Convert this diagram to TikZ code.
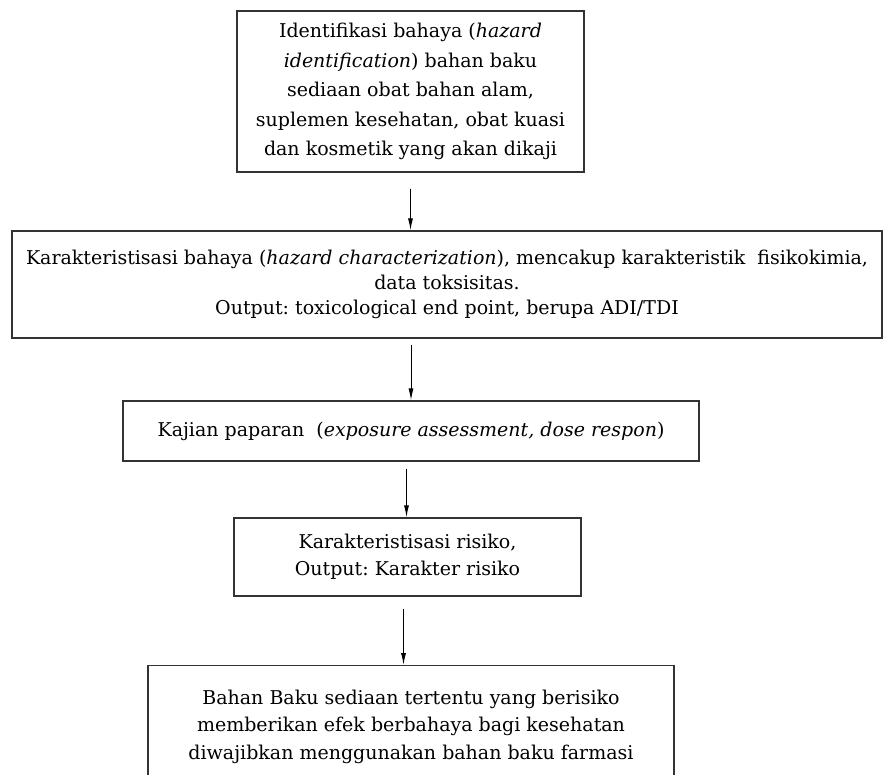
\documentclass[tikz,border=0pt]{standalone}
\usepackage{fontspec}
\setmainfont{DejaVu Serif}
\usetikzlibrary{arrows.meta}
\frenchspacing
\begin{document}
\begin{tikzpicture}[x=1pt,y=-1pt,
  box/.style={draw=black!80,line width=1.3pt,align=center,inner sep=0pt,
    font=\fontsize{19}{27.5}\selectfont},
  flow/.style={-{Latex[length=12pt,width=5pt]},line width=1pt}]
  \useasboundingbox (0,0) rectangle (894,775);
  \node[box,minimum width=347pt,minimum height=161pt,font=\fontsize{19}{29.5}\selectfont] (ident) at (410.5,91.5)
    {Identifikasi bahaya (\textit{hazard}\\ \textit{identification}) bahan baku\\ sediaan obat bahan alam,\\ suplemen kesehatan, obat kuasi\\ dan kosmetik yang akan dikaji};
  \node[box,minimum width=870pt,minimum height=107pt,font=\fontsize{19}{25}\selectfont] (charac) at (447,284.5)
    {Karakteristisasi bahaya (\textit{hazard characterization}), mencakup karakteristik~ fisikokimia,\\ data toksisitas.\\ Output: toxicological end point, berupa ADI/TDI};
  \node[box,minimum width=576pt,minimum height=60pt] (expo) at (411,431)
    {Kajian paparan~ (\textit{exposure assessment, dose respon})};
  \node[box,minimum width=347pt,minimum height=78pt] (risk) at (407.5,557)
    {Karakteristisasi risiko,\\ Output: Karakter risiko};
  \node[box,minimum width=526pt,minimum height=122pt,anchor=north] (raw) at (411,665)
    {Bahan Baku sediaan tertentu yang berisiko\\ memberikan efek berbahaya bagi kesehatan\\ diwajibkan menggunakan bahan baku farmasi};
  \draw[flow,shorten <=16pt] (ident.south) -- (ident.south |- charac.north);
  \draw[flow,shorten <=6pt] (expo.north |- charac.south) -- (expo.north);
  \draw[flow,shorten <=7pt] ([xshift=-1pt]risk.north |- expo.south) -- ([xshift=-1pt]risk.north);
  \draw[flow,shorten <=12pt] ([xshift=-4pt]risk.south) -- ([xshift=-4pt]risk.south |- raw.north);
\end{tikzpicture}
\end{document}
